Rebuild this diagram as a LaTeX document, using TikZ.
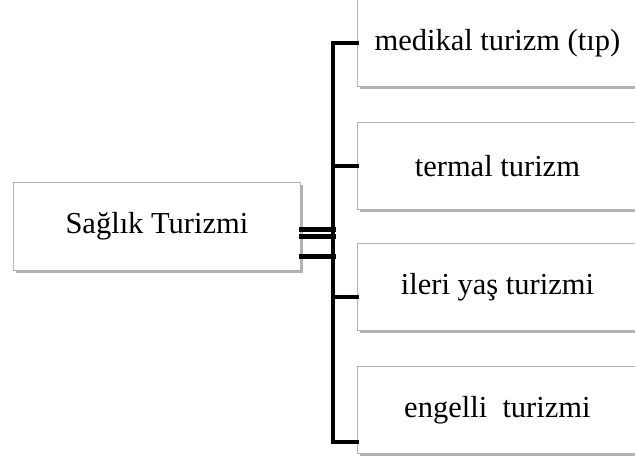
\documentclass[tikz,border=0pt]{standalone}
\usepackage{fontspec}
\setmainfont{Liberation Serif}
\usetikzlibrary{shadows}

\tikzset{
  box/.style={draw=gray!60, line width=0.8pt, fill=white, rectangle,
    anchor=north west, inner sep=0pt,
    drop shadow={shadow xshift=2.5pt, shadow yshift=-2.5pt, fill=black, opacity=0.3},
    font=\fontsize{30.5}{36}\selectfont},
  link/.style={line width=4.4pt, line cap=rect},
}

\begin{document}
\begin{tikzpicture}[x=1pt, y=-1pt]
\clip (0,0) rectangle (635,459);
\fill[white] (0,0) rectangle (635,459);

\node[box, minimum width=287pt, minimum height=88pt] (saglik) at (13,182) {Sağlık Turizmi};

\node[box, minimum width=280pt, minimum height=87pt] (medikal) at (357,-1) {medikal turizm (tıp)};
\node[box, minimum width=280pt, minimum height=87pt] (termal) at (357,122) {termal turizm};
\node[box, minimum width=280pt, minimum height=87pt] (ileri) at (357,243) {ileri yaş turizmi};
\node[box, minimum width=280pt, minimum height=87pt] (engelli) at (357,366) {engelli\ \ turizmi};

% bus on the right
\draw[link] (medikal.west) -- ++(-24,0) |- ([yshift=12pt]engelli.south west);
\draw[link] (termal.west) -- ++(-24,0);
\draw[link] ([yshift=-10pt]ileri.west) -- ++(-24,0);

% three stubs from the main box
\draw[link] ([yshift=-3pt]saglik.east) -- ++(33,0);
\draw[link] ([yshift=-10pt]saglik.east) -- ++(33,0);
\draw[link] ([yshift=-30pt]saglik.east) -- ++(33,0);

\end{tikzpicture}
\end{document}
